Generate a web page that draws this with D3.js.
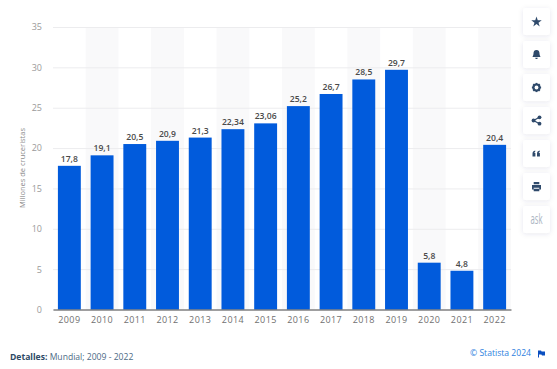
<!DOCTYPE html>
<html>
<head>
<meta charset="utf-8">
<script src="https://cdnjs.cloudflare.com/ajax/libs/d3/7.8.5/d3.min.js"></script>
<style>
  html, body { margin: 0; padding: 0; background: #fff; }
  svg { display: block; font-family: "Open Sans", sans-serif; }
</style>
</head>
<body>
<svg id="chart" width="557" height="369"></svg>
<script>
const years = ['2009', '2010', '2011', '2012', '2013', '2014', '2015', '2016', '2017', '2018', '2019', '2020', '2021', '2022'];
const cruisers = [17.8, 19.1, 20.5, 20.9, 21.3, 22.34, 23.06, 25.2, 26.7, 28.5, 29.7, 5.8, 4.8, 20.4];
const valueLabels = ['17,8', '19,1', '20,5', '20,9', '21,3', '22,34', '23,06', '25,2', '26,7', '28,5', '29,7', '5,8', '4,8', '20,4'];
const yTicks = [0, 5, 10, 15, 20, 25, 30, 35];

const svg = d3.select('#chart');

const plotLeft = 53, plotRight = 511, plotTop = 27, plotBottom = 309.5;

const xScale = d3.scaleBand()
  .range([plotLeft, plotRight])
  .domain(years)
  .paddingInner(0.3)
  .paddingOuter(0.15);

const yScale = d3.scaleLinear()
  .range([plotBottom, plotTop])
  .domain([0, 35]);

// grey stripes behind the even years
const step = xScale.step();
svg.append('g')
  .selectAll('rect')
  .data(years.filter((y, i) => i % 2 === 1))
  .enter()
  .append('rect')
  .attr('x', (y) => xScale(y) - step * 0.15)
  .attr('y', plotTop)
  .attr('width', step)
  .attr('height', plotBottom - plotTop)
  .attr('fill', '#f9f9fa');

// grid lines + y labels
const yAxis = svg.append('g')
  .attr('transform', `translate(${plotLeft}, 0)`)
  .call(d3.axisLeft(yScale).tickValues(yTicks).tickSize(-(plotRight - plotLeft)).tickPadding(11));
yAxis.select('.domain').remove();
yAxis.selectAll('line').attr('stroke', '#ececee').attr('stroke-width', 1);
yAxis.selectAll('text')
  .attr('fill', '#9a9a9a')
  .attr('font-size', 9)
  .attr('font-family', '"Open Sans", sans-serif');

// bars
svg.append('g')
  .selectAll('rect')
  .data(years)
  .enter()
  .append('rect')
  .attr('x', (y) => xScale(y))
  .attr('y', (y, i) => yScale(cruisers[i]))
  .attr('width', xScale.bandwidth())
  .attr('height', (y, i) => plotBottom - yScale(cruisers[i]))
  .attr('fill', '#015bdc');

// value labels
svg.append('g')
  .selectAll('text')
  .data(years)
  .enter()
  .append('text')
  .attr('x', (y) => xScale(y) + xScale.bandwidth() / 2)
  .attr('y', (y, i) => yScale(cruisers[i]) - 4)
  .attr('text-anchor', 'middle')
  .attr('font-size', 8.6)
  .attr('font-weight', 600)
  .attr('fill', '#4a4a4a')
  .text((y, i) => valueLabels[i]);

// x axis
const xAxis = svg.append('g')
  .attr('transform', `translate(0, ${plotBottom})`)
  .call(d3.axisBottom(xScale).tickSize(0).tickPadding(7));
xAxis.select('.domain').attr('stroke', '#4a4a4a').attr('stroke-width', 1);
xAxis.selectAll('text')
  .attr('fill', '#707070')
  .attr('font-size', 9)
  .attr('letter-spacing', 0.4)
  .attr('font-family', '"Open Sans", sans-serif');

// y axis title
svg.append('text')
  .attr('transform', 'translate(25, 168) rotate(-90)')
  .attr('text-anchor', 'middle')
  .attr('font-size', 7.5)
  .attr('fill', '#8a8a8a')
  .text('Millones de cruceristas');

// footer
const details = svg.append('text')
  .attr('x', 10)
  .attr('y', 360)
  .attr('font-size', 8.6)
  .attr('fill', '#4d6a85');
details.append('tspan').attr('font-weight', 700).attr('fill', '#2d4a66').text('Detalles:');
details.append('tspan').text(' Mundial; 2009 - 2022');

svg.append('text')
  .attr('x', 531)
  .attr('y', 356)
  .attr('text-anchor', 'end')
  .attr('font-size', 8.6)
  .attr('fill', '#2f7fe0')
  .text('© Statista 2024');
svg.append('path')
  .attr('d', 'M538 350.5h3l0.6 1h3.4v4h-3l-0.6-1h-2.4v3h-1z')
  .attr('fill', '#0a4fc0');

// side buttons
const defs = svg.append('defs');
const shadow = defs.append('filter').attr('id', 'soft')
  .attr('x', '-30%').attr('y', '-30%').attr('width', '160%').attr('height', '160%');
shadow.append('feDropShadow')
  .attr('dx', 0).attr('dy', 1).attr('stdDeviation', 2.5)
  .attr('flood-color', '#30405a').attr('flood-opacity', 0.1);

const buttonTops = [8, 41, 74, 107, 140, 173, 206];
const iconColor = '#2f4a6b';
const buttons = svg.append('g')
  .selectAll('g')
  .data(buttonTops)
  .enter()
  .append('g')
  .attr('transform', (d) => `translate(523, ${d})`);
buttons.append('rect')
  .attr('width', 27)
  .attr('height', 27)
  .attr('rx', 3)
  .attr('fill', '#fff')
  .attr('filter', 'url(#soft)');

const icons = buttons.append('g').attr('transform', 'translate(13.5, 13.5)');

// star
icons.filter((d, i) => i === 0).append('path')
  .attr('d', d3.symbol().type(d3.symbolStar).size(34)())
  .attr('transform', 'translate(0, 0.5)')
  .attr('fill', iconColor);
// bell
icons.filter((d, i) => i === 1).append('path')
  .attr('d', 'M0-4.5c2.3 0 3 1.8 3 3.6 0 1.7.7 2.5 1 3.4h-8c.3-.9 1-1.7 1-3.4 0-1.8.7-3.6 3-3.6zM-1.3 3.2h2.6c0 .9-.6 1.3-1.3 1.3s-1.3-.4-1.3-1.3z')
  .attr('fill', iconColor);
// gear
const gear = icons.filter((d, i) => i === 2);
gear.append('circle').attr('r', 3).attr('fill', 'none').attr('stroke', iconColor).attr('stroke-width', 2.2);
gear.selectAll('rect').data([0, 45, 90, 135]).enter().append('rect')
  .attr('x', -0.9).attr('y', -4.6).attr('width', 1.8).attr('height', 9.2)
  .attr('transform', (a) => `rotate(${a})`)
  .attr('fill', iconColor);
gear.append('circle').attr('r', 1.9).attr('fill', '#fff');
// share
const share = icons.filter((d, i) => i === 3);
share.append('path').attr('d', 'M3-3.2L-3 0L3 3.2').attr('fill', 'none').attr('stroke', iconColor).attr('stroke-width', 1.2);
share.selectAll('circle').data([[3, -3.2], [-3, 0], [3, 3.2]]).enter().append('circle')
  .attr('cx', (p) => p[0]).attr('cy', (p) => p[1]).attr('r', 1.9).attr('fill', iconColor);
// quote
icons.filter((d, i) => i === 4).append('path')
  .attr('d', 'M-4 3v-2.8c0-1.8.9-2.8 2.7-3.2v1.4c-.7.2-1 .6-1 1.2h1.2v3.4zM.5 3v-2.8c0-1.8.9-2.8 2.7-3.2v1.4c-.7.2-1 .6-1 1.2h1.2v3.4z')
  .attr('fill', iconColor);
// printer
icons.filter((d, i) => i === 5).append('path')
  .attr('d', 'M-2.8-4.5h5.6v2.3h-5.6zM-4.5-1.5h9v4.5h-1.7v-1.8h-5.6v1.8h-1.7zM-2.8 2.2h5.6v2.5h-5.6z')
  .attr('fill', iconColor);
// ask
icons.filter((d, i) => i === 6).append('text')
  .attr('text-anchor', 'middle')
  .attr('y', 4.5)
  .attr('font-size', 14)
  .attr('fill', '#a9b4c2')
  .attr('textLength', 12)
  .attr('lengthAdjust', 'spacingAndGlyphs')
  .text('ask');
</script>
</body>
</html>
